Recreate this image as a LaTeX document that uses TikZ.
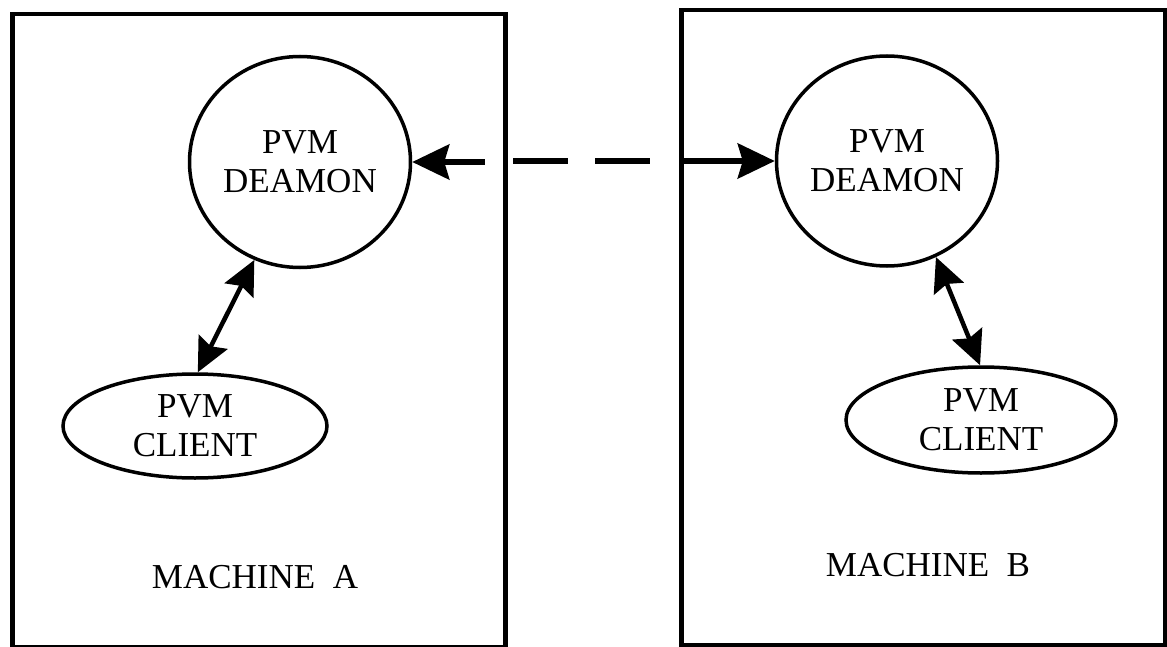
\documentclass[tikz,border=0pt]{standalone}
\usepackage{fontspec}
\setmainfont{Liberation Serif}
\usetikzlibrary{arrows.meta,shapes.geometric}
\tikzset{
  bighead/.tip={Stealth[length=37pt, width=35pt, inset=5pt]},
  smallhead/.tip={Stealth[length=34pt, width=32pt, inset=5pt]}}
\begin{document}
\begin{tikzpicture}[x=1pt,y=-1pt,
  machine/.style={draw, line width=4.5pt, inner sep=0pt, anchor=north west},
  blob/.style={draw, ellipse, line width=3.5pt, inner sep=0pt, align=center,
    font=\fontsize{35}{39}\selectfont},
  caption/.style={font=\fontsize{35}{39}\selectfont, inner sep=0pt},
  flow/.style={line width=5.5pt},
  shaft/.style={line width=4.5pt}]
  % page area
  \fill[white] (0,0) rectangle (1167,647);
  \useasboundingbox (0,0) rectangle (1167,647);

  % the two machines
  \node[machine, minimum width=493pt, minimum height=633pt] (mA) at (10,12) {};
  \node[machine, minimum width=484pt, minimum height=635pt] (mB) at (679,8) {};

  % processes
  \node[blob, minimum width=221pt, minimum height=211pt] (dA) at (300,162) {PVM\\DEAMON};
  \node[blob, minimum width=221pt, minimum height=210pt] (dB) at (887,161) {PVM\\DEAMON};
  \node[blob, minimum width=264pt, minimum height=104pt] (cA) at (195,426) {PVM\\CLIENT};
  \node[blob, minimum width=270pt, minimum height=106pt] (cB) at (981,420) {PVM\\CLIENT};

  % machine names
  \node[caption] (tA) at (255,577) {MACHINE~~A};
  \node[caption] (tB) at (928,565) {MACHINE~~B};

  % daemon <-> client links
  \draw[shaft, smallhead-smallhead] (dA.245) -- (cA.87);
  \draw[shaft, smallhead-smallhead] (dB.297) -- (cB.91);

  % daemon <-> daemon link across the network
  \coordinate (jL) at (485,162);
  \coordinate (dashS) at (513,161);
  \coordinate (dashE) at (652,161);
  \coordinate (jR) at (680,161);
  \draw[flow, bighead-] (dA.east) -- (jL);
  \draw[flow, dash pattern=on 55pt off 27pt] (dashS) -- (dashE);
  \draw[flow, -bighead] (jR) -- (dB.west);
\end{tikzpicture}
\end{document}
